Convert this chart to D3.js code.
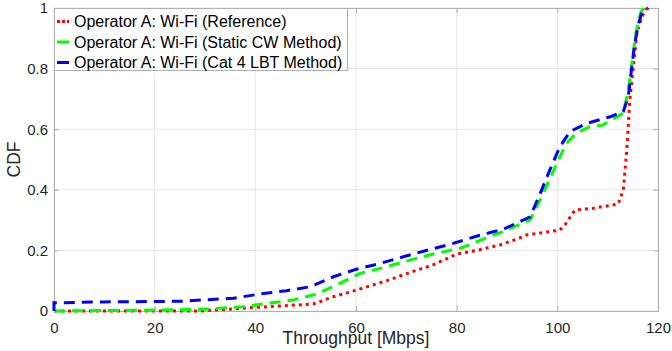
<!DOCTYPE html>
<html>
<head>
<meta charset="utf-8">
<script src="https://cdn.jsdelivr.net/npm/d3@7"></script>
<style>
  body { margin: 0; background: #fff; }
  svg { display: block; font-family: "Liberation Sans", Arial, sans-serif; }
</style>
</head>
<body>
<div id="container"></div>
<script>
// CDF curves: [throughput Mbps, CDF]
const refCurve = [
  [0, 0], [29, 0], [40.3, 0.012], [51.5, 0.023], [55.5, 0.047], [60.1, 0.069],
  [66.1, 0.1], [72.1, 0.135], [75.3, 0.152], [80, 0.188], [84, 0.2], [88.6, 0.218],
  [91.9, 0.237], [93.9, 0.251], [100.5, 0.267], [101.5, 0.284], [103.5, 0.333],
  [107.1, 0.339], [112.1, 0.353], [113.1, 0.4], [113.8, 0.531], [114.4, 0.696],
  [115.1, 0.806], [115.8, 0.917], [116.8, 0.971], [117.8, 1.0]
];
const staticCwCurve = [
  [0, 0], [20, 0.003], [30, 0.006], [37.6, 0.014], [42.3, 0.025], [47.5, 0.036],
  [52.2, 0.056], [56.8, 0.091], [60.8, 0.124], [66.1, 0.146], [70.7, 0.168],
  [75.4, 0.188], [80.7, 0.207], [85.3, 0.237], [89.9, 0.267], [94.6, 0.3],
  [97.2, 0.388], [99.9, 0.487], [101.8, 0.553], [103.7, 0.586], [106.4, 0.608],
  [109.0, 0.614], [113.1, 0.653], [114.1, 0.729], [114.8, 0.817], [115.6, 0.917],
  [116.5, 0.983], [117.2, 1.0]
];
const cat4Curve = [
  [0, 0], [0, 0.027], [10, 0.03], [25, 0.032], [35.6, 0.042], [40.9, 0.056],
  [46.2, 0.067], [50.9, 0.08], [55.5, 0.113], [60.1, 0.138], [64.8, 0.157],
  [69.4, 0.179], [74.7, 0.203], [79.3, 0.223], [84.6, 0.25], [89.3, 0.27],
  [94.6, 0.311], [96.6, 0.388], [98.5, 0.465], [100.5, 0.542], [102.5, 0.592],
  [105.8, 0.619], [110.5, 0.641], [113.1, 0.658], [114.1, 0.707], [114.8, 0.806],
  [115.4, 0.886], [116.1, 0.946], [116.8, 0.985], [118.1, 1.0]
];
const seriesNames = [
  "Operator A: Wi-Fi (Reference)",
  "Operator A: Wi-Fi (Static CW Method)",
  "Operator A: Wi-Fi (Cat 4 LBT Method)"
];
const xTicks = [0, 20, 40, 60, 80, 100, 120];
const yTicks = [0, 0.2, 0.4, 0.6, 0.8, 1];

const W = 672, H = 351;
const margin = { left: 54, right: 14, top: 8, bottom: 40 };

const svg = d3.select("#container").append("svg")
  .attr("width", W).attr("height", H);

const x = d3.scaleLinear().domain([0, 120]).range([margin.left, W - margin.right]);
const y = d3.scaleLinear().domain([0, 1]).range([H - margin.bottom, margin.top]);

// grid
svg.append("g").selectAll("line").data(xTicks).enter().append("line")
  .attr("x1", d => x(d)).attr("x2", d => x(d))
  .attr("y1", y(0)).attr("y2", y(1))
  .attr("stroke", "#e6e6e6").attr("stroke-width", 1);
svg.append("g").selectAll("line").data(yTicks).enter().append("line")
  .attr("x1", x(0)).attr("x2", x(120))
  .attr("y1", d => y(d)).attr("y2", d => y(d))
  .attr("stroke", "#e6e6e6").attr("stroke-width", 1);

// axes
svg.append("g")
  .attr("transform", `translate(0,${y(0)})`)
  .call(d3.axisBottom(x).tickValues(xTicks).tickSize(-5).tickPadding(11).tickFormat(d3.format("d")));
svg.append("g")
  .attr("transform", `translate(${x(0)},0)`)
  .call(d3.axisLeft(y).tickValues(yTicks).tickSize(-5).tickPadding(6).tickFormat(d => d === 0 || d === 1 ? d : d.toFixed(1)));
svg.append("g")
  .attr("transform", `translate(0,${y(1)})`)
  .call(d3.axisTop(x).tickValues(xTicks).tickSize(-5).tickFormat(""));
svg.append("g")
  .attr("transform", `translate(${x(120)},0)`)
  .call(d3.axisRight(y).tickValues(yTicks).tickSize(-5).tickFormat(""));

svg.selectAll(".domain").attr("stroke", "#b0b0b0");
svg.selectAll(".tick line").attr("stroke", "#b0b0b0");
svg.selectAll(".tick text").attr("fill", "#262626").style("font-size", "15px");

// axis labels
svg.append("text")
  .attr("x", (x(0) + x(120)) / 2).attr("y", 344)
  .attr("text-anchor", "middle").attr("fill", "#262626")
  .style("font-size", "17.5px").text("Throughput [Mbps]");
svg.append("text")
  .attr("transform", `translate(20,${(y(0) + y(1)) / 2}) rotate(-90)`)
  .attr("text-anchor", "middle").attr("fill", "#262626")
  .style("font-size", "17.5px").text("CDF");

// curves
const line = d3.line().x(d => x(d[0])).y(d => y(d[1]));
const styles = [
  { data: refCurve, color: "#ff0000", dash: "3,4" },
  { data: staticCwCurve, color: "#00ff00", dash: "11,7" },
  { data: cat4Curve, color: "#0000ff", dash: "11,7" }
];
styles.forEach(s => {
  svg.append("path").datum(s.data)
    .attr("d", line)
    .attr("fill", "none")
    .attr("stroke", s.color)
    .attr("stroke-width", 3)
    .attr("stroke-dasharray", s.dash);
});

// legend
const lg = svg.append("g");
lg.append("rect")
  .attr("x", x(0) + 0.5).attr("y", y(1) + 0.5)
  .attr("width", 293).attr("height", 62)
  .attr("fill", "#fff").attr("stroke", "#b0b0b0");
seriesNames.forEach((name, i) => {
  const yy = y(1) + 13.5 + i * 20.5;
  lg.append("line")
    .attr("x1", x(0) + 3).attr("x2", x(0) + 15)
    .attr("y1", yy).attr("y2", yy)
    .attr("stroke", styles[i].color).attr("stroke-width", 3)
    .attr("stroke-dasharray", i === 0 ? "3,2" : null);
  lg.append("text")
    .attr("x", x(0) + 20).attr("y", yy + 5.5)
    .attr("fill", "#000").style("font-size", "16px")
    .text(name);
});
</script>
</body>
</html>
